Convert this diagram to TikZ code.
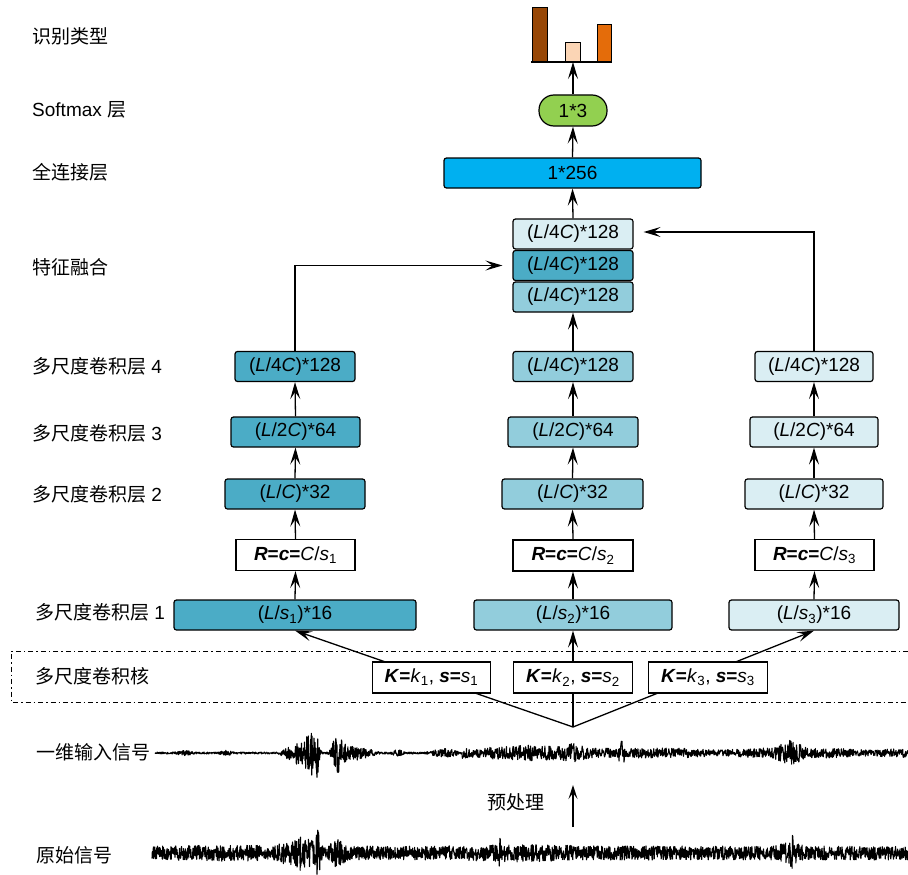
\documentclass[tikz,border=0pt]{standalone}
\usepackage{fontspec}
\setmainfont{Liberation Sans}
\newfontfamily\cjk{Noto Sans CJK SC}
\usetikzlibrary{arrows.meta}
\definecolor{cDark}{HTML}{4BACC6}
\definecolor{cMid}{HTML}{92CDDC}
\definecolor{cLight}{HTML}{DAEEF3}
\definecolor{cFC}{HTML}{00B0F0}
\definecolor{cSoft}{HTML}{92D050}
\definecolor{barA}{HTML}{974706}
\definecolor{barB}{HTML}{FBD5B5}
\definecolor{barC}{HTML}{E46C0A}
\begin{document}
\begin{tikzpicture}[x=1pt,y=-1pt,
  font=\fontsize{19}{22}\selectfont,
  box/.style={draw, line width=1.2pt, rounded corners=2.5pt, minimum height=30pt, inner sep=0pt},
  plain/.style={draw, line width=1.2pt, minimum height=31pt, inner sep=0pt, fill=white},
  lbl/.style={anchor=west, inner sep=0pt},
  arr/.style={line width=1.3pt, -{Stealth[length=17pt,width=10pt,inset=7pt]}},
  sarr/.style={line width=1.3pt, -{Stealth[length=14pt,width=9pt,inset=6pt]}},
  wave/.style={line width=1.1pt, line join=round},
  declare function={
    bump(\t,\c,\w)=max(0,1-abs(\t-\c)/\w);
    sigA(\t)=1+2*bump(\t,185,10)+1.8*bump(\t,226,10)+12*bump(\t,300,22)+16*bump(\t,312,10)+20*bump(\t,318,3)+18*bump(\t,338,10)+7*bump(\t,355,25)+3*bump(\t,398,8)+4*bump(\t,445,20)+4*(\t>462)+3*bump(\t,530,60)+5*bump(\t,575,15)+12*bump(\t,622,4)-2*bump(\t,720,40)+8*bump(\t,790,18)-2*bump(\t,870,40);
    sigB(\t)=7+1.5*bump(\t,230,60)+11*bump(\t,300,25)+16*bump(\t,318,4)+9*bump(\t,338,10)+2*bump(\t,520,80)+5*bump(\t,790,15)+10*bump(\t,792,3)+7*bump(\t,500,3);
  }]
\useasboundingbox (0,0) rectangle (908,875);

% left labels
\node[lbl] (t1) at (32,36) {{\cjk 识别类型}};
\node[lbl] (t2) at (32,110) {Softmax {\cjk 层}};
\node[lbl] (t3) at (32,172) {{\cjk 全连接层}};
\node[lbl] (t4) at (32,267) {{\cjk 特征融合}};
\node[lbl] (t5) at (32,366) {{\cjk 多尺度卷积层} 4};
\node[lbl] (t6) at (32,433) {{\cjk 多尺度卷积层} 3};
\node[lbl] (t7) at (32,494) {{\cjk 多尺度卷积层} 2};
\node[lbl] (t8) at (35,612) {{\cjk 多尺度卷积层} 1};
\node[lbl] (t9) at (35,676) {{\cjk 多尺度卷积核}};
\node[lbl] (t10) at (36,752) {{\cjk 一维输入信号}};
\node[lbl] (t11) at (36,855) {{\cjk 原始信号}};
\node[lbl] (t12) at (487,802) {{\cjk 预处理}};

% dashed kernel band
\draw[line width=1pt, dash pattern=on 5pt off 3pt on 1.5pt off 3pt] (908,651) -- (11,651) -- (11,702) -- (908,702);

% bar chart
\draw[fill=barA, line width=1pt] (532,8) rectangle (547,62);
\draw[fill=barB, line width=1pt] (565,43) rectangle (580,62);
\draw[fill=barC, line width=1pt] (597,25) rectangle (611,62);
\draw[line width=2pt] (531,62) -- (612,62);
\coordinate (base) at (573,62);

% top nodes
\node[draw, line width=1.2pt, fill=cSoft, rounded corners=15pt, minimum width=68pt, minimum height=31pt, inner sep=0pt] (soft) at (573,110.5) {1*3};
\node[box, fill=cFC, minimum width=257pt] (fc) at (572.5,173) {1*256};
\node[box, fill=cLight, minimum width=120pt] (fTop) at (573,234) {(\textit{L}/4\textit{C})*128};
\node[box, fill=cDark, minimum width=120pt] (fMid) at (573,265.5) {(\textit{L}/4\textit{C})*128};
\node[box, fill=cMid, minimum width=120pt] (fBot) at (573,297) {(\textit{L}/4\textit{C})*128};

% left column
\node[box, fill=cDark, minimum width=120pt] (lL4) at (295,366.5) {(\textit{L}/4\textit{C})*128};
\node[box, fill=cDark, minimum width=129pt] (lL3) at (295.5,432) {(\textit{L}/2\textit{C})*64};
\node[box, fill=cDark, minimum width=140pt] (lL2) at (295,494) {(\textit{L}/\textit{C})*32};
\node[plain, minimum width=119pt] (lR) at (295.5,555) {\textbf{\textit{R}=\textit{c}=}\textit{C}/\textit{s}\textsubscript{1}};
\node[box, fill=cDark, minimum width=242pt] (lL1) at (295,615) {(\textit{L}/\textit{s}\textsubscript{1})*16};

% middle column
\node[box, fill=cMid, minimum width=120pt] (mL4) at (573,366.5) {(\textit{L}/4\textit{C})*128};
\node[box, fill=cMid, minimum width=130pt] (mL3) at (573,432) {(\textit{L}/2\textit{C})*64};
\node[box, fill=cMid, minimum width=141pt] (mL2) at (572.5,494) {(\textit{L}/\textit{C})*32};
\node[plain, minimum width=120pt] (mR) at (573,555.5) {\textbf{\textit{R}=\textit{c}=}\textit{C}/\textit{s}\textsubscript{2}};
\node[box, fill=cMid, minimum width=198pt] (mL1) at (573,615) {(\textit{L}/\textit{s}\textsubscript{2})*16};

% right column
\node[box, fill=cLight, minimum width=118pt] (rL4) at (814,366.5) {(\textit{L}/4\textit{C})*128};
\node[box, fill=cLight, minimum width=128pt] (rL3) at (814,432) {(\textit{L}/2\textit{C})*64};
\node[box, fill=cLight, minimum width=138pt] (rL2) at (814,494) {(\textit{L}/\textit{C})*32};
\node[plain, minimum width=119pt] (rR) at (814.5,555) {\textbf{\textit{R}=\textit{c}=}\textit{C}/\textit{s}\textsubscript{3}};
\node[box, fill=cLight, minimum width=170pt] (rL1) at (814,615) {(\textit{L}/\textit{s}\textsubscript{3})*16};

% vertical arrows in columns
\foreach \c in {l,m,r}{
  \draw[arr] (\c L1.north) -- (\c R.south);
  \draw[arr] (\c R.north) -- (\c L2.south);
  \draw[arr] (\c L2.north) -- (\c L3.south);
  \draw[arr] (\c L3.north) -- (\c L4.south);
}
\draw[arr] (mL4.north) -- (fBot.south);
\draw[arr] (fTop.north) -- (fc.south);
\draw[arr] (fc.north) -- (soft.south);
\draw[arr] (soft.north) -- (base);

% fusion connectors
\draw[arr] (lL4.north) |- ([xshift=-10pt]fMid.west);
\draw[arr] (rL4.north) |- ([xshift=10pt,yshift=2pt]fTop.east);

% branch from input signal
\coordinate (j) at (573,727);
\draw[arr] (j) -- (lL1.south);
\draw[arr] (j) -- (mL1.south);
\draw[arr] (j) -- (rL1.south);

% kernel boxes (over the branch lines)
\node[plain, minimum width=118pt] (k1) at (431.5,677.5) {\textbf{\textit{K}=}\textit{k}\textsubscript{1}, \textbf{\textit{s}=}\textit{s}\textsubscript{1}};
\node[plain, minimum width=119pt] (k2) at (573,677.5) {\textbf{\textit{K}=}\textit{k}\textsubscript{2}, \textbf{\textit{s}=}\textit{s}\textsubscript{2}};
\node[plain, minimum width=119pt] (k3) at (708,677.5) {\textbf{\textit{K}=}\textit{k}\textsubscript{3}, \textbf{\textit{s}=}\textit{s}\textsubscript{3}};

% preprocessing arrow
\coordinate (p1) at (573,827);
\coordinate (p2) at (573,785);
\draw[sarr] (p1) -- (p2);

% waveforms
\pgfmathsetseed{4242}
\draw[wave] plot[domain=155:908, samples=2000] (\x, {753+sigA(\x)*rand});
\draw[wave] plot[domain=152:908, samples=2200] (\x, {853+sigB(\x)*rand});
\end{tikzpicture}
\end{document}
